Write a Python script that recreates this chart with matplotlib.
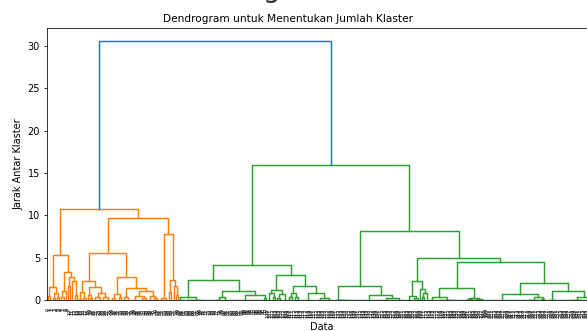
import matplotlib
matplotlib.use("Agg")
import matplotlib.pyplot as plt

# dendrogram tree: [merge height, left, right]
# an int k stands for k leaves joined at distance 0
orange_a = [5.3,
            [1.5, [0.5, 1, 1], [0.8, [0.2, 1, 1], [0.4, 1, 1]]],
            [3.3, [1.1, [0.3, 1, 1], 1], [2.7, [1.6, 1, 1], [2.2, 1, [0.6, 1, 1]]]]]
orange_b1a = [2.3,
              [0.9, [0.1, 1, 1], [0.2, 1, 1]],
              [1.5, [0.6, 1, [0.2, 1, 1]], [0.85, [0.3, 2, 2], [0.4, 1, 3]]]]
orange_b1b = [2.7,
              [0.7, [0.2, 1, 2], [0.3, 1, 1]],
              [1.4, [0.3, 2, 2], [1.1, [0.45, 4, [0.2, 2, 2]], [0.5, 2, [0.2, 1, 2]]]]]
orange_b2 = [7.8, [0.2, 2, 2], [2.4, [1.0, 1, 1], [1.65, 1, [0.6, 1, 1]]]]
orange = [10.7, orange_a, [9.7, [5.6, orange_b1a, orange_b1b], orange_b2]]

green_1a = [2.4,
            [0.3, 1, [0, 6, 8]],
            [1.1, [0.3, [0, 4, 1], 2], [0.6, 16, [0.2, 1, 1]]]]
green_1b = [3.0,
            [1.2, [0.85, 2, [0.3, 1, 1]], [0.7, [0.2, 1, 2], 2]],
            [1.6, [0.8, [0.3, 2, 1], [0.4, 1, 2]], [0.87, 7, [0.25, 4, 4]]]]
green_2a = [1.65, [0.05, 1, [0, 1, 10]], [0.6, 9, [0.2, 6, 6]]]
green_2b1 = [2.2, [0.5, 3, [0.2, 2, 1]], [1.26, 1, [0.8, [0.3, 1, 1], 1]]]
green_2b2a = [1.38, [0.3, 4, [0, 3, 10]], [0.25, [0.1, 2, 2], [0.15, 2, 3]]]
green_2b2b = [2.0,
              [0.67, 16, [0.3, [0, 8, 1], [0.1, 1, 2]]],
              [1.06, [0.05, 2, 4], [0.3, [0, 10, 1], 6]]]
green = [16.0, [4.1, green_1a, green_1b],
         [8.1, green_2a, [5.0, green_2b1, [4.5, green_2b2a, green_2b2b]]]]

top_height = 30.6
cluster_colors = ["C1", "C2"]
top_color = "C0"

fig = plt.figure(figsize=(5.87, 3.31), dpi=100)
ax = fig.add_axes([47 / 587, 31 / 331, 550 / 587, 272 / 331])

leaves = []


def walk(node, color):
    # returns (x position, height) of the node and draws its links
    if isinstance(node, int):
        xs = []
        for _ in range(node):
            xs.append(5 + 10 * len(leaves))
            leaves.append(str(len(leaves)))
        if node > 1:
            ax.plot([xs[0], xs[-1]], [0, 0], color=color, lw=1.06)
        return sum(xs) / len(xs), 0
    h, left, right = node
    xl, hl = walk(left, color)
    xr, hr = walk(right, color)
    ax.plot([xl, xl, xr, xr], [hl, h, h, hr], color=color, lw=1.06)
    return (xl + xr) / 2, h


x1, h1 = walk(orange, cluster_colors[0])
x2, h2 = walk(green, cluster_colors[1])
ax.plot([x1, x1, x2, x2], [h1, top_height, top_height, h2], color=top_color, lw=1.06)

n = len(leaves)
ax.set_xlim(0, 10 * n)
ax.set_ylim(0, top_height * 1.05)
ax.set_xticks([5 + 10 * i for i in range(n)])
ax.set_xticklabels(leaves, rotation=90, fontsize=3.5)
for t in ax.get_xticklines():
    t.set_visible(False)
ax.tick_params(axis="x", pad=2.5)
ax.tick_params(axis="y", labelsize=7, length=2.5, width=0.56, pad=2.5)
for s in ax.spines.values():
    s.set_linewidth(0.56)

ax.set_title("Dendrogram untuk Menentukan Jumlah Klaster", fontsize=7.6, x=0.4375, pad=4.2)
ax.set_xlabel("Data", fontsize=7, labelpad=2.8)
ax.set_ylabel("Jarak Antar Klaster", fontsize=7, labelpad=2.8)
fig.text(271 / 587, 1.009, "g", fontsize=20, ha="center", va="baseline", color="#333333")

fig.savefig("out.png", dpi=100)
